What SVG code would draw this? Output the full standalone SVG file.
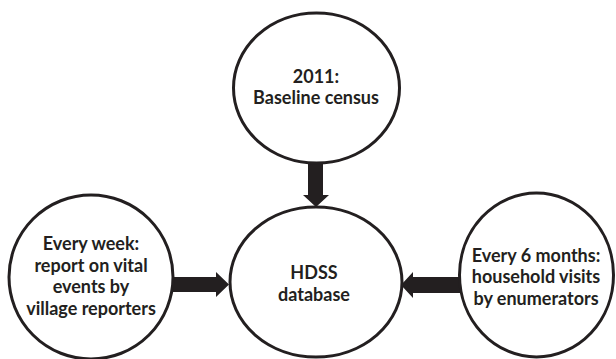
<svg xmlns="http://www.w3.org/2000/svg" width="616" height="359" viewBox="0 0 616 359">
<style>
.node{fill:#fff;stroke:#231f20;stroke-width:3}
.lbl{font-family:Lato,"Open Sans","Liberation Sans",sans-serif;font-weight:bold;font-size:18px;fill:#231f20;text-anchor:middle}
.arr{fill:#231f20;stroke:none}
</style>
<rect width="616" height="359" fill="#fff"/>
<g id="connectors">
<polygon class="arr" points="308,161 323,161 323,195 329,195 316,207 303,195 308,195"/>
<polygon class="arr" points="172,277 216,277 216,272 229,284.5 216,297 216,292 172,292"/>
<polygon class="arr" points="460,277 413,277 413,272 401,285 413,298 413,293 460,293"/>
</g>
<g id="baseline">
<ellipse class="node" cx="316.5" cy="88" rx="83" ry="75"/>
<text class="lbl" x="316" y="83">2011:</text>
<text class="lbl" x="316" y="104">Baseline census</text>
</g>
<g id="hdss">
<ellipse class="node" cx="316" cy="282" rx="86" ry="75"/>
<text class="lbl" x="314" y="279">HDSS</text>
<text class="lbl" x="314" y="300.5">database</text>
</g>
<g id="weekly">
<ellipse class="node" cx="91" cy="277" rx="82" ry="82"/>
<text class="lbl" x="91" y="250">Every week:</text>
<text class="lbl" x="91" y="271.5">report on vital</text>
<text class="lbl" x="91" y="293">events by</text>
<text class="lbl" x="91" y="314.5">village reporters</text>
</g>
<g id="sixmonth">
<ellipse class="node" cx="536.5" cy="275" rx="77" ry="82"/>
<text class="lbl" x="536" y="261.5">Every 6 months:</text>
<text class="lbl" x="536" y="283">household visits</text>
<text class="lbl" x="536" y="304.5">by enumerators</text>
</g>
</svg>
